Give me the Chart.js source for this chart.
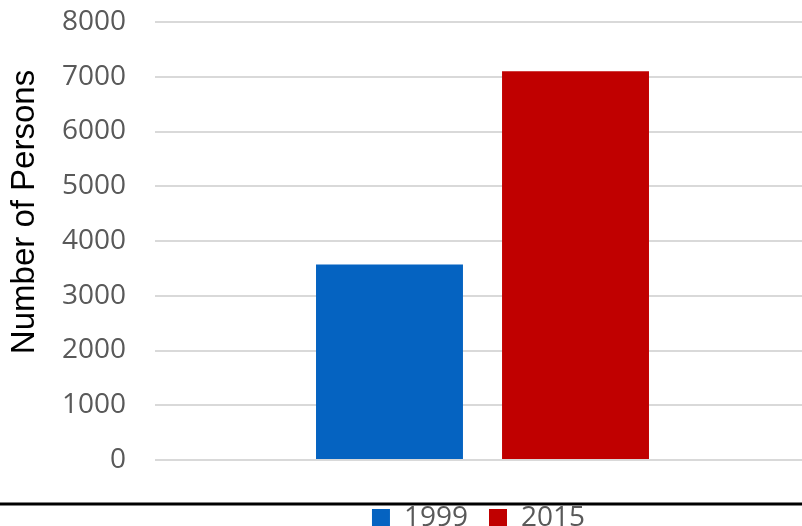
<!DOCTYPE html>
<html>
<head>
<meta charset="utf-8">
<script src="https://cdn.jsdelivr.net/npm/chart.js@4"></script>
<style>
  html, body { margin: 0; padding: 0; background: #fff; overflow: hidden; }
  #wrap { width: 802px; height: 542px; }
</style>
</head>
<body>
<div id="wrap"><canvas id="chart" width="802" height="542"></canvas></div>
<script>
// 人数の比較 (1999 / 2015)
const categories = [""];
const years = ["1999", "2015"];
const persons1999 = [3570];
const persons2015 = [7100];
const yTicks = [0, 1000, 2000, 3000, 4000, 5000, 6000, 7000, 8000];
const yTitle = "Number of Persons";

const tickGray = "#595959";

// 棒の組を少し右へ寄せるため、x軸の右端を延ばす
const shiftX = {
  id: "shiftX",
  afterLayout(chart) {
    const x = chart.scales.x;
    x.right = x.right + 8;
    x.width = x.right - x.left;
    x.configure();
  }
};

// 凡例の上に引く黒い横線と、縦軸タイトル
const extras = {
  id: "extras",
  afterDraw(chart) {
    const c = chart.ctx;
    const y = chart.chartArea.bottom + 44;
    c.save();
    c.strokeStyle = "#000";
    c.lineWidth = 3;
    c.beginPath();
    c.moveTo(0, y);
    c.lineTo(chart.width, y);
    c.stroke();

    c.translate(25, chart.chartArea.top + 190);
    c.rotate(-Math.PI / 2);
    c.fillStyle = "#000";
    c.font = "33px 'Liberation Sans'";
    c.textAlign = "center";
    c.textBaseline = "middle";
    c.fillText(yTitle, 0, 0);
    c.restore();
  }
};

new Chart(document.getElementById("chart"), {
  type: "bar",
  data: {
    labels: categories,
    datasets: [
      { label: years[0], data: persons1999, backgroundColor: "#0563C1" },
      { label: years[1], data: persons2015, backgroundColor: "#C00000" }
    ]
  },
  options: {
    responsive: false,
    animation: false,
    layout: { padding: { top: 22, right: 0, left: 0, bottom: 0 } },
    categoryPercentage: 0.568,
    barPercentage: 0.79,
    scales: {
      x: {
        grid: { display: false },
        border: { display: false },
        ticks: { display: false },
        afterFit(scale) { scale.height = 23; }
      },
      y: {
        min: yTicks[0],
        max: yTicks[yTicks.length - 1],
        afterBuildTicks(scale) { scale.ticks = yTicks.map(v => ({ value: v })); },
        afterFit(scale) {
          scale.width = 155;
          scale.paddingTop = 0;
          scale.paddingBottom = 0;
        },
        grid: { color: "#D9D9D9", lineWidth: 2, drawTicks: false },
        border: { display: false },
        ticks: {
          color: tickGray,
          padding: 29,
          font: { family: "Open Sans", size: 28 },
          callback: v => String(v)
        }
      }
    },
    plugins: {
      tooltip: { enabled: false },
      legend: {
        position: "bottom",
        fullSize: false,
        labels: {
          color: tickGray,
          boxWidth: 18,
          boxHeight: 18,
          padding: 21,
          font: { family: "Open Sans", size: 28 }
        }
      }
    }
  },
  plugins: [shiftX, extras]
});
</script>
</body>
</html>
